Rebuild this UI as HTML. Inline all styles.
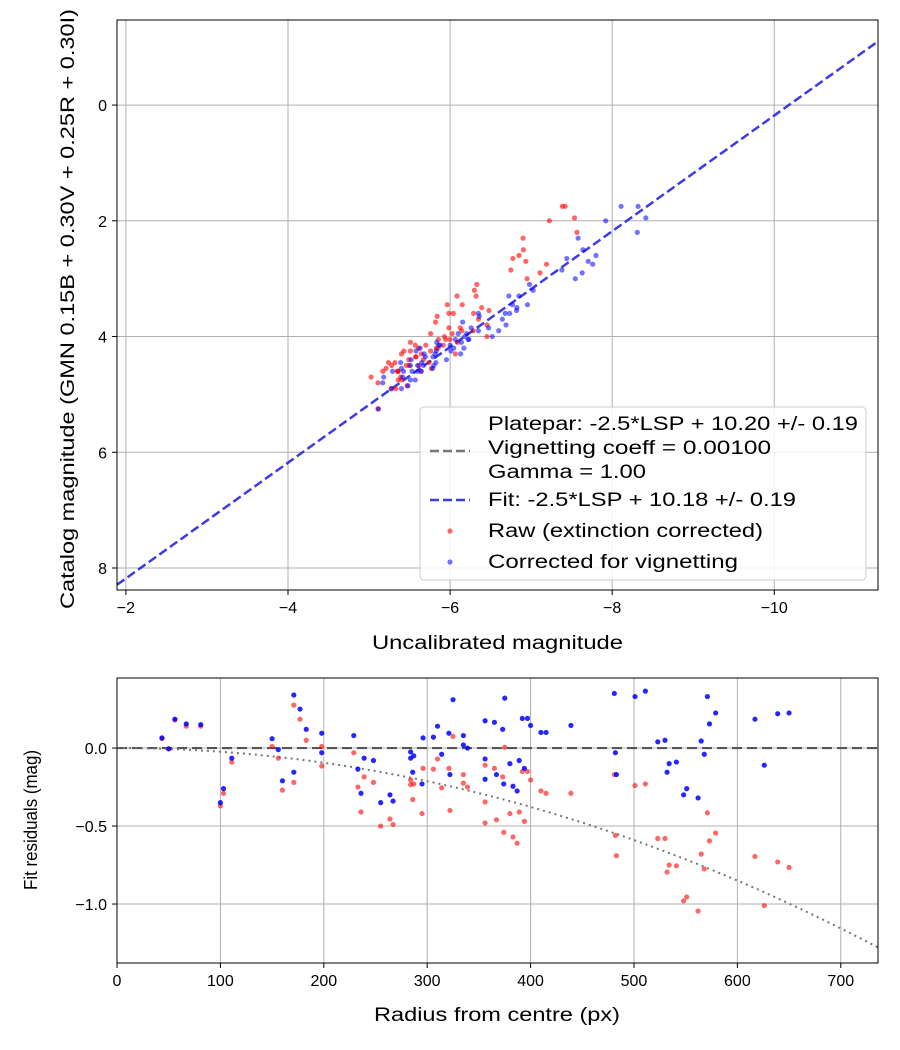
<!DOCTYPE html>
<html><head><meta charset="utf-8"><style>
body{margin:0;background:#fff;}
svg{display:block;font-family:"Liberation Sans","DejaVu Sans",sans-serif;}
</style></head><body>
<svg id="fig" width="900" height="1050" viewBox="0 0 900 1050" xmlns="http://www.w3.org/2000/svg"></svg>
<script>
// ---- data ----
const radius = [43.5,50,56,67,81,100,103,111,150,156,160,171,171,177,183,198,198,229,233,236,239,248,255,264,267,284,284,287,286,295,296,306,310,314,321,322,325,335,335,339,356,356,356,365,367,375,373,374,380,383,387,389,394,392,397,400,410,415,439,481,482,483,501,511,523,530,532,534,541,548,551,562,565,568,571,573,579,617,626,639,650];
const resCorrected = [.065,-.005,.185,.155,.15,-.35,-.26,-.065,.06,-.01,-.21,.34,-.155,.25,.12,.095,-.03,.08,-.135,-.29,-.065,-.08,-.35,-.3,-.34,-.025,-.065,-.05,-.155,-.23,.065,.07,.14,-.04,.095,-.17,.31,.08,.02,0,.175,-.07,-.2,.165,-.17,.32,.12,-.23,-.1,-.245,-.275,-.08,-.13,.19,.19,.145,.1,.1,.145,.35,-.03,-.17,.33,.365,.04,.05,-.155,-.1,-.09,-.3,-.26,-.32,.045,-.04,.33,.155,.225,.185,-.11,.22,.225];
const resRaw = [.06,-.005,.18,.14,.14,-.37,-.29,-.09,.01,-.065,-.27,.275,-.22,.185,.05,.01,-.115,-.03,-.25,-.41,-.185,-.22,-.5,-.455,-.49,-.205,-.235,-.23,-.33,-.42,-.13,-.135,-.07,-.255,-.13,-.4,.075,-.17,-.225,-.25,-.11,-.345,-.48,-.13,-.46,.005,-.185,-.54,-.42,-.57,-.61,-.41,-.47,-.15,-.15,-.205,-.275,-.29,-.29,-.17,-.56,-.69,-.24,-.23,-.58,-.58,-.795,-.75,-.755,-.98,-.955,-1.045,-.68,-.775,-.415,-.595,-.545,-.695,-1.01,-.73,-.765];
const catMag = [4.6,4.9,5.25,4.55,4.85,4.2,4.4,4.7,4.1,4.5,4.8,4.0,4.6,4.3,4.9,4.45,4.15,4.75,4.35,4.6,4.05,4.5,4.25,4.7,4.45,3.95,4.3,4.6,4.15,4.55,4.2,3.9,4.75,4.35,4.05,4.5,3.8,4.25,4.6,4.0,4.4,3.85,4.3,3.7,4.15,3.9,4.5,3.6,4.25,4.1,3.75,4.45,3.95,3.55,4.2,3.85,4.05,3.6,3.5,2.9,3.3,3.65,2.75,3.0,3.45,2.85,3.3,3.1,2.65,2.3,2.0,1.75,3.2,2.5,2.2,3.6,2.7,1.95,1.75,2.6,3.45];
const fitIntercept = 10.18;
const vignK = 2.36e-6;
const topXTicks = [-2,-4,-6,-8,-10];
const topYTicks = [0,2,4,6,8];
const botXTicks = [0,100,200,300,400,500,600,700];
const botYTicks = [0.0,-0.5,-1.0];

const NS="http://www.w3.org/2000/svg";
const svg=document.getElementById('fig');
function mk(tag,attrs,parent){const e=document.createElementNS(NS,tag);for(const k in attrs)e.setAttribute(k,attrs[k]);(parent||svg).appendChild(e);return e;}

// ---- top axes ----
const T={l:117,r:878,t:20,b:590,x0:-1.89,x1:-11.28,y0:-1.47,y1:8.38};
const tx=v=>T.l+(v-T.x0)/(T.x1-T.x0)*(T.r-T.l);
const ty=v=>T.t+(v-T.y0)/(T.y1-T.y0)*(T.b-T.t);
const gTop=mk('g',{});


topXTicks.forEach(v=>{
  const l=mk('line',{x1:tx(v),x2:tx(v),y1:T.t,y2:T.b,stroke:'#b0b0b0','stroke-width':1},gTop);
  
  mk('line',{x1:tx(v),x2:tx(v),y1:T.b,y2:T.b+5,stroke:'#000'},gTop);
  const t=mk('text',{x:tx(v),y:T.b+23,'font-size':16,'text-anchor':'middle'},gTop);t.textContent='\u2212'+Math.abs(v);
  
});
topYTicks.forEach(v=>{
  const l=mk('line',{x1:T.l,x2:T.r,y1:ty(v),y2:ty(v),stroke:'#b0b0b0','stroke-width':1},gTop);
  
  mk('line',{x1:T.l-5,x2:T.l,y1:ty(v),y2:ty(v),stroke:'#000'},gTop);
  const t=mk('text',{x:T.l-10,y:ty(v)+6,'font-size':16,'text-anchor':'end'},gTop);t.textContent=v;
  
});
const fl=mk('line',{x1:tx(T.x0),y1:ty(T.x0+fitIntercept),x2:tx(T.x1),y2:ty(T.x1+fitIntercept),stroke:'#1a1ae0','stroke-opacity':0.85,'stroke-width':2.5,'stroke-dasharray':'9,4'},gTop);

catMag.forEach((m,i)=>{
  const c=mk('circle',{cx:tx(m-fitIntercept-resRaw[i]),cy:ty(m),r:2.6,fill:'rgba(255,0,0,0.6)'},gTop);
  
});
catMag.forEach((m,i)=>{
  const c=mk('circle',{cx:tx(m-fitIntercept-resCorrected[i]),cy:ty(m),r:2.6,fill:'rgba(0,0,255,0.55)'},gTop);
  
});
mk('rect',{x:T.l,y:T.t,width:T.r-T.l,height:T.b-T.t,fill:'none',stroke:'#000','stroke-width':1},gTop);
// legend
const lg=mk('g',{},gTop);

mk('rect',{x:420,y:407,width:446,height:173,rx:4,fill:'rgba(255,255,255,0.85)',stroke:'#ccc'},lg);
const legTxt=[['Platepar: -2.5*LSP + 10.20 +/- 0.19',430,370],['Vignetting coeff = 0.00100',454,283],['Gamma = 1.00',478,158],['Fit: -2.5*LSP + 10.18 +/- 0.19',506,308],['Raw (extinction corrected)',537,275],['Corrected for vignetting',568,250]];
legTxt.forEach(([s,y,w])=>{const t=mk('text',{x:488,y:y,'font-size':19,textLength:w,lengthAdjust:'spacingAndGlyphs'},lg);t.textContent=s;});
mk('line',{x1:430,x2:470,y1:451,y2:451,stroke:'#777','stroke-width':2.5,'stroke-dasharray':'9,4'},lg);
mk('line',{x1:430,x2:470,y1:500,y2:500,stroke:'#1a1ae0','stroke-opacity':0.85,'stroke-width':2.5,'stroke-dasharray':'9,4'},lg);
mk('circle',{cx:450,cy:531,r:2.6,fill:'rgba(255,0,0,0.6)'},lg);
mk('circle',{cx:450,cy:562,r:2.6,fill:'rgba(0,0,255,0.55)'},lg);
let t=mk('text',{x:372,y:649,'font-size':19,textLength:251,lengthAdjust:'spacingAndGlyphs'});t.textContent='Uncalibrated magnitude';

t=mk('text',{x:-302,y:0,'font-size':19,textLength:600,lengthAdjust:'spacingAndGlyphs',transform:'translate(74,307) rotate(-90)'});t.textContent='Catalog magnitude (GMN 0.15B + 0.30V + 0.25R + 0.30I)';


// ---- bottom axes ----
const B={l:117,r:878,t:678,b:963,x0:0,x1:736,y0:0.449,y1:-1.378};
const bx=v=>B.l+(v-B.x0)/(B.x1-B.x0)*(B.r-B.l);
const by=v=>B.t+(v-B.y0)/(B.y1-B.y0)*(B.b-B.t);
const gBot=mk('g',{});

botXTicks.forEach(v=>{
  const l=mk('line',{x1:bx(v),x2:bx(v),y1:B.t,y2:B.b,stroke:'#b0b0b0'},gBot);
  
  mk('line',{x1:bx(v),x2:bx(v),y1:B.b,y2:B.b+5,stroke:'#000'},gBot);
  const t=mk('text',{x:bx(v),y:B.b+23,'font-size':16,'text-anchor':'middle'},gBot);t.textContent=v;
  
});
botYTicks.forEach(v=>{
  const l=mk('line',{x1:B.l,x2:B.r,y1:by(v),y2:by(v),stroke:'#b0b0b0'},gBot);
  
  mk('line',{x1:B.l-5,x2:B.l,y1:by(v),y2:by(v),stroke:'#000'},gBot);
  const t=mk('text',{x:B.l-10,y:by(v)+6,'font-size':16,'text-anchor':'end'},gBot);t.textContent=(v<0?'\u2212':'')+Math.abs(v).toFixed(1);
  
});
let zl=mk('line',{x1:B.l,x2:B.r,y1:by(0),y2:by(0),stroke:'#555','stroke-width':2.2,'stroke-dasharray':'10,5'},gBot);

let pts=[];for(let r=0;r<=B.x1;r+=4){pts.push(bx(r)+','+by(-vignK*r*r));}
let vc=mk('polyline',{points:pts.join(' '),fill:'none',stroke:'#777','stroke-width':2,'stroke-dasharray':'2,4'},gBot);

radius.forEach((r,i)=>{
  const c=mk('circle',{cx:bx(r),cy:by(resRaw[i]),r:2.6,fill:'rgba(255,0,0,0.6)'},gBot);
  
});
radius.forEach((r,i)=>{
  const c=mk('circle',{cx:bx(r),cy:by(resCorrected[i]),r:2.6,fill:'rgba(0,0,255,0.85)'},gBot);
  
});
mk('rect',{x:B.l,y:B.t,width:B.r-B.l,height:B.b-B.t,fill:'none',stroke:'#000'},gBot);
t=mk('text',{x:374,y:1021,'font-size':19,textLength:246,lengthAdjust:'spacingAndGlyphs'});t.textContent='Radius from centre (px)';

t=mk('text',{x:-70,y:0,'font-size':18,textLength:140,lengthAdjust:'spacingAndGlyphs',transform:'translate(37,820) rotate(-90)'});t.textContent='Fit residuals (mag)';

</script>
</body></html>
